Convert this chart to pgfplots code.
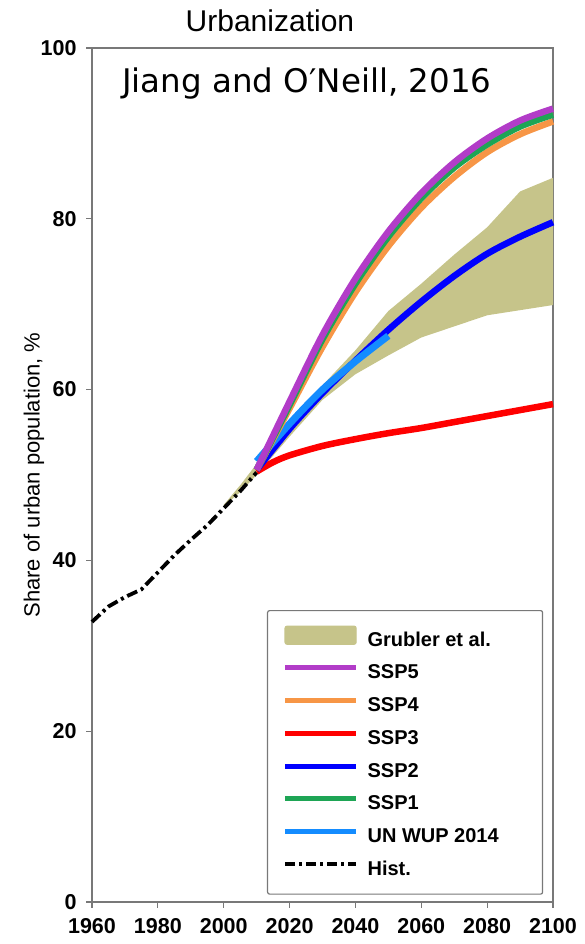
\documentclass[border=0pt]{standalone}
\usepackage{fontspec}
\setmainfont{Liberation Sans}
\newfontfamily\djfont{DejaVu Sans}
\usepackage{pgfplots}
\pgfplotsset{compat=1.18}
\usepgfplotslibrary{fillbetween}
\definecolor{khaki}{RGB}{198,196,138}
\definecolor{sspfive}{RGB}{178,60,200}
\definecolor{sspfour}{RGB}{247,150,70}
\definecolor{sspthree}{RGB}{255,0,0}
\definecolor{ssptwo}{RGB}{0,0,255}
\definecolor{sspone}{RGB}{30,165,85}
\definecolor{unwup}{RGB}{20,140,255}
\definecolor{axgray}{RGB}{120,120,120}
\begin{document}
\begin{tikzpicture}
\begin{axis}[
  scale only axis, width=461pt, height=854pt,
  xmin=1960, xmax=2100, ymin=0, ymax=100,
  xtick={1960,1980,...,2100}, ytick={0,20,...,100},
  xtick pos=left, ytick pos=left,
  tick align=outside, major tick length=6pt,
  axis line style={draw=axgray, line width=1.5pt},
  tick style={draw=axgray, line width=1.2pt},
  /pgf/number format/assume math mode=true,
  /pgf/number format/1000 sep={},
  tick label style={font=\fontsize{21.5}{21.5}\selectfont\bfseries},
  x tick label style={yshift=-7pt},
  y tick label style={xshift=-6pt},
  ylabel={Share of urban population, \%},
  ylabel style={font=\fontsize{22}{22}\selectfont, at={(axis description cs:-0.126,0.5)}, anchor=center},
  clip=false,
  legend style={at={(axis description cs:0.3796,0.3419)}, anchor=north west,
    draw=axgray, line width=1.2pt, rounded corners=2pt,
    inner xsep=15pt, inner ysep=15pt,
    font=\fontsize{20}{20}\selectfont\bfseries,
    row sep=14.7pt, column sep=9pt,
    nodes={inner xsep=0pt, inner ysep=0pt, text height=14pt, text depth=4pt}},
  legend cell align=left,
]
% Grubler et al. band
\addplot[name path=up, draw=none, forget plot] coordinates {
 (2000,46.5) (2005,48.8) (2010,51.3) (2020,56.3) (2030,60.5) (2040,64.6) (2050,69.2)
 (2060,72.4) (2070,75.8) (2080,79.0) (2090,83.2) (2100,84.8)};
\addplot[name path=lo, draw=none, forget plot] coordinates {
 (2000,46.3) (2005,48.0) (2010,50.0) (2020,54.5) (2030,58.8) (2040,61.8) (2050,64.0)
 (2060,66.1) (2070,67.4) (2080,68.7) (2090,69.3) (2100,69.9)};
\addplot[khaki, forget plot] fill between[of=up and lo];
% Hist.
\addplot[black, line width=3.8pt, dash pattern=on 11pt off 4pt on 3pt off 4pt, forget plot] coordinates {
 (1960,32.8) (1965,34.6) (1970,35.7) (1975,36.6) (1980,38.6) (1985,40.6) (1990,42.4)
 (1995,44.1) (2000,46.1) (2005,48.1) (2010,50.3)};
% SSP3
\addplot[sspthree, line width=6.5pt, smooth, forget plot] coordinates {
 (2010,50.4) (2015,51.5) (2020,52.3) (2030,53.4) (2040,54.2) (2050,54.9) (2060,55.5)
 (2070,56.2) (2080,56.9) (2090,57.6) (2100,58.3)};
% SSP2
\addplot[ssptwo, line width=6.5pt, smooth, forget plot] coordinates {
 (2010,50.6) (2020,55.4) (2030,59.6) (2040,63.4) (2050,67.0) (2060,70.3) (2070,73.3)
 (2080,75.9) (2090,77.9) (2100,79.6)};
% UN WUP 2014
\addplot[unwup, line width=7pt, smooth, forget plot] coordinates {
 (2010,51.6) (2020,56.0) (2030,60.0) (2040,63.3) (2050,66.3)};
% SSP4
\addplot[sspfour, line width=6.5pt, smooth, forget plot] coordinates {
 (2010,50.6) (2020,57.8) (2030,65.0) (2040,71.4) (2050,76.8) (2060,81.3) (2070,84.9)
 (2080,87.8) (2090,89.9) (2100,91.4)};
% SSP1
\addplot[sspone, line width=6.5pt, smooth, forget plot] coordinates {
 (2010,50.6) (2020,58.2) (2030,65.9) (2040,72.4) (2050,77.9) (2060,82.4) (2070,86.0)
 (2080,88.7) (2090,90.8) (2100,92.2)};
% SSP5
\addplot[sspfive, line width=6.5pt, smooth, forget plot] coordinates {
 (2010,50.6) (2020,58.6) (2030,66.4) (2040,73.0) (2050,78.5) (2060,83.0) (2070,86.6)
 (2080,89.4) (2090,91.5) (2100,92.9)};
% legend
\addlegendimage{legend image code/.code={\fill[khaki] (0pt,-3pt) rectangle (71pt,15pt);}}
\addlegendentry{\makebox[160pt][l]{Grubler et al.}}
\addlegendimage{legend image code/.code={\draw[sspfive, line width=5pt] (0pt,6pt) -- (71pt,6pt);}}
\addlegendentry{SSP5}
\addlegendimage{legend image code/.code={\draw[sspfour, line width=5pt] (0pt,6pt) -- (71pt,6pt);}}
\addlegendentry{SSP4}
\addlegendimage{legend image code/.code={\draw[sspthree, line width=5pt] (0pt,6pt) -- (71pt,6pt);}}
\addlegendentry{SSP3}
\addlegendimage{legend image code/.code={\draw[ssptwo, line width=5pt] (0pt,6pt) -- (71pt,6pt);}}
\addlegendentry{SSP2}
\addlegendimage{legend image code/.code={\draw[sspone, line width=5pt] (0pt,6pt) -- (71pt,6pt);}}
\addlegendentry{SSP1}
\addlegendimage{legend image code/.code={\draw[unwup, line width=5pt] (0pt,6pt) -- (71pt,6pt);}}
\addlegendentry{UN WUP 2014}
\addlegendimage{legend image code/.code={\draw[black, line width=3.5pt, dash pattern=on 10pt off 4pt on 3pt off 4pt] (0pt,6pt) -- (71pt,6pt);}}
\addlegendentry{Hist.}
% titles
\node[font=\fontsize{30}{30}\selectfont] at (rel axis cs:0.386,1) [yshift=27pt] {Urbanization};
\node[font=\djfont\fontsize{32.5}{32.5}\selectfont] at (rel axis cs:0.466,0.958) {Jiang and O′Neill, 2016};
\end{axis}
\pgfresetboundingbox
\path[use as bounding box] ([shift={(-92pt,-42pt)}]current axis.south west) rectangle ([shift={(32pt,48pt)}]current axis.north east);
\end{tikzpicture}
\end{document}
